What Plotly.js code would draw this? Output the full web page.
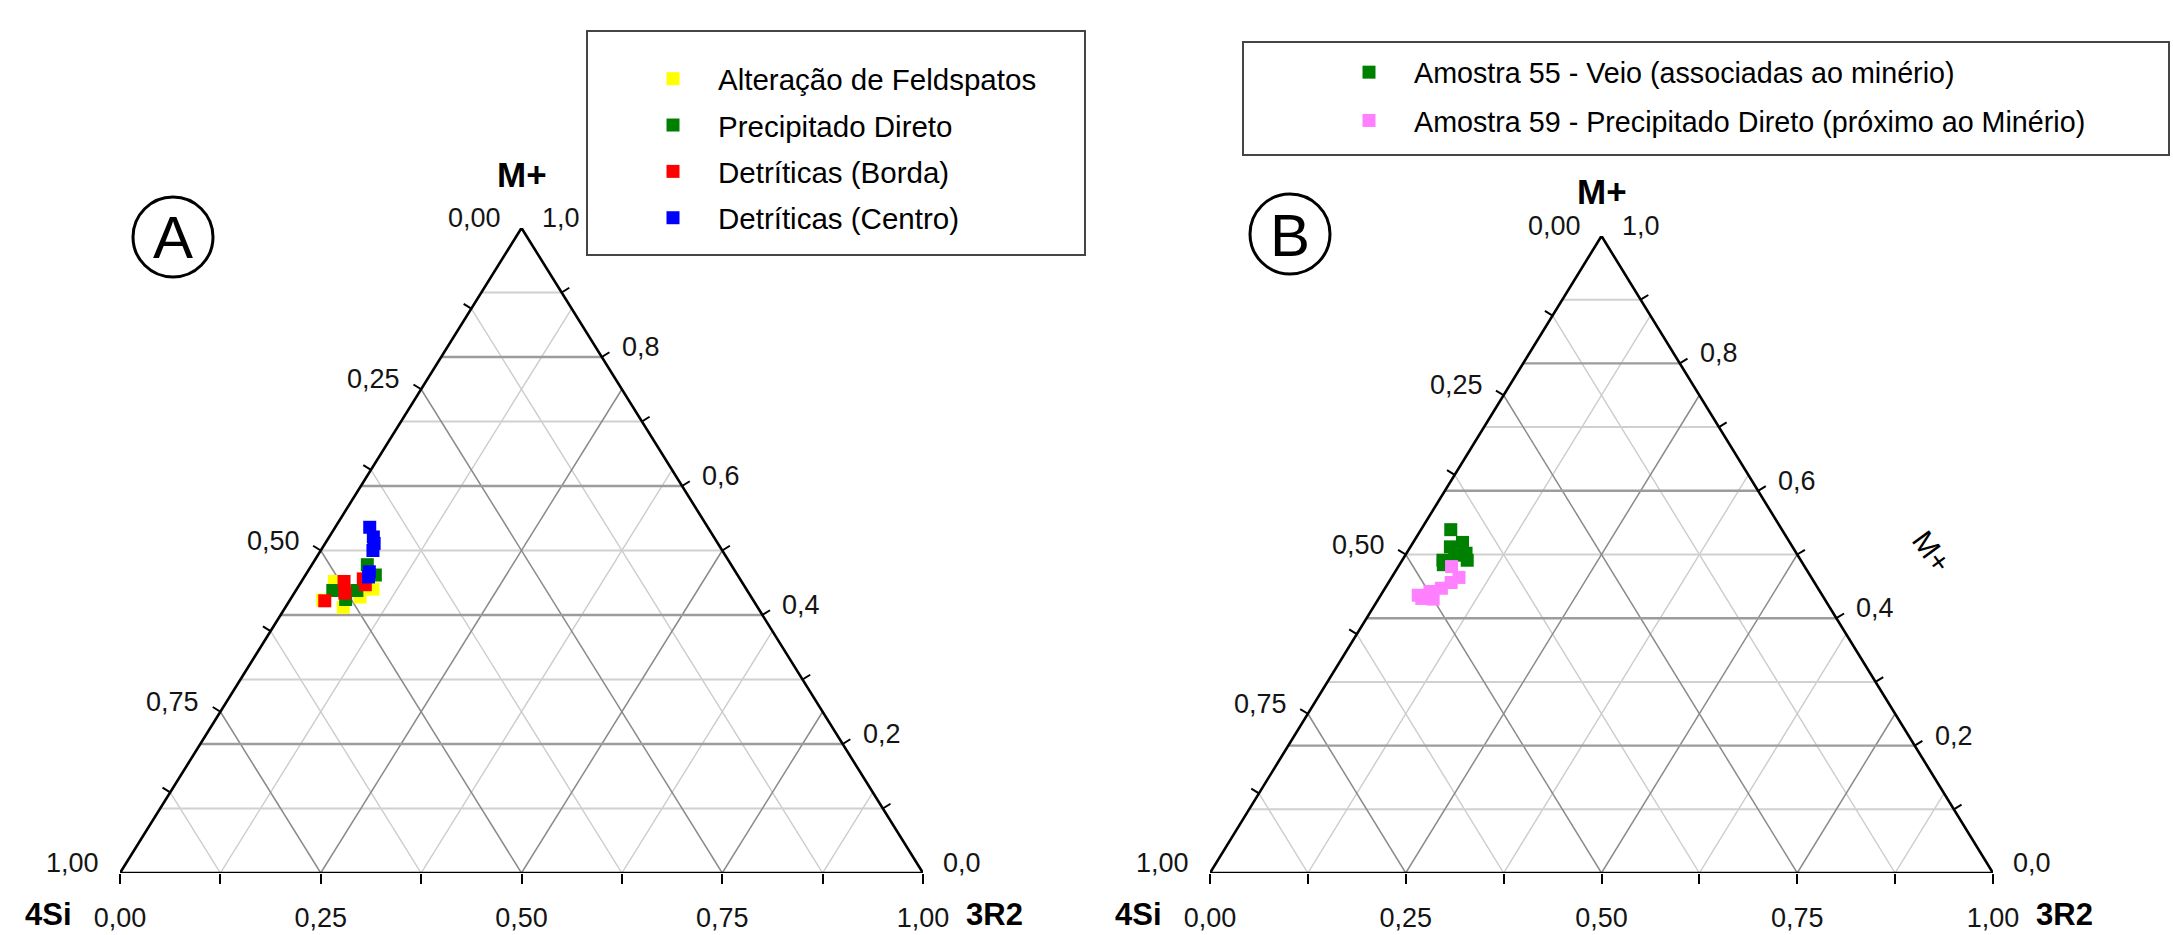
<!DOCTYPE html>
<html><head><meta charset="utf-8">
<script src="https://cdn.plot.ly/plotly-3.0.1.min.js"></script>
<style>html,body{margin:0;padding:0;background:#fff}#chart{width:2173px;height:935px}</style>
</head><body><div id="chart"></div>
<script>
// ---------- axis ticks ----------
const bottomTicks = [0, 0.125, 0.25, 0.375, 0.5, 0.625, 0.75, 0.875, 1];        // 3R2 along base
const bottomTickText = ['0,00', '', '0,25', '', '0,50', '', '0,75', '', '1,00'];
const leftTicks = [0, 0.125, 0.25, 0.375, 0.5, 0.625, 0.75, 0.875, 1];          // 4Si along left side
const leftTickText = ['0,00', '', '0,25', '', '0,50', '', '0,75', '', '1,00'];
const rightTicks = [0, 0.1, 0.2, 0.3, 0.4, 0.5, 0.6, 0.7, 0.8, 0.9, 1];         // M+ along right side
const rightTickText = ['0,0', '', '0,2', '', '0,4', '', '0,6', '', '0,8', '', '1,0'];
const apexTitle = 'M+', leftTitle = '4Si', rightTitle = '3R2';

// ---------- Panel A data (fractions M+, 4Si, 3R2) ----------
const namesA = ['Alteração de Feldspatos', 'Precipitado Direto', 'Detríticas (Borda)', 'Detríticas (Centro)'];
const feldM  = [0.452, 0.412, 0.440, 0.423, 0.428];
const feldSi = [0.507, 0.516, 0.465, 0.536, 0.487];
const feldR2 = [0.041, 0.072, 0.095, 0.041, 0.085];
const precM  = [0.478, 0.462, 0.438, 0.438, 0.424];
const precSi = [0.453, 0.451, 0.516, 0.486, 0.507];
const precR2 = [0.069, 0.087, 0.046, 0.076, 0.069];
const bordaM  = [0.422, 0.452, 0.434, 0.456, 0.447];
const bordaSi = [0.534, 0.495, 0.503, 0.469, 0.471];
const bordaR2 = [0.044, 0.053, 0.063, 0.075, 0.082];
const centroM  = [0.536, 0.521, 0.511, 0.500, 0.467, 0.459];
const centroSi = [0.421, 0.424, 0.428, 0.435, 0.456, 0.461];
const centroR2 = [0.043, 0.055, 0.061, 0.065, 0.077, 0.080];

// ---------- Panel B data ----------
const namesB = ['Amostra 55 - Veio (associadas ao minério)', 'Amostra 59 - Precipitado Direto (próximo ao Minério)'];
const a55M  = [0.539, 0.512, 0.519, 0.502, 0.491, 0.491, 0.499, 0.484];
const a55Si = [0.423, 0.437, 0.418, 0.422, 0.426, 0.457, 0.438, 0.460];
const a55R2 = [0.038, 0.051, 0.063, 0.076, 0.083, 0.052, 0.063, 0.056];
const a59M  = [0.481, 0.464, 0.456, 0.447, 0.442, 0.436, 0.430, 0.431];
const a59Si = [0.451, 0.450, 0.464, 0.481, 0.498, 0.516, 0.500, 0.514];
const a59R2 = [0.068, 0.086, 0.080, 0.072, 0.060, 0.048, 0.070, 0.055];

// ---------- helpers ----------
const W = 2173, H = 935;
const px = v => v / W, py = v => 1 - v / H;
const FONT = '"Liberation Sans", Arial, sans-serif';
// ternary (M+, 3R2) -> cartesian inside a triangle with base [0,1] and apex at (0.5,1)
const toX = (m, r2) => r2 + m / 2;

function frame(xa, ya, wPx, hPx, opt) {
  const tr = [], ann = [];
  const hMaj = {x: [], y: []}, hMin = {x: [], y: []}, sMaj = {x: [], y: []}, sMin = {x: [], y: []};
  rightTicks.forEach((v, i) => {
    if (v <= 0 || v >= 1) return;
    const g = i % 2 === 0 ? hMaj : hMin;
    g.x.push(toX(v, 0), toX(v, 1 - v), null); g.y.push(v, v, null);
  });
  bottomTicks.forEach((v, i) => {
    if (v <= 0 || v >= 1) return;
    const g = i % 2 === 0 ? sMaj : sMin;
    g.x.push(toX(0, v), toX(1 - v, v), null); g.y.push(0, 1 - v, null);   // constant 3R2
    g.x.push(toX(0, v), toX(v, 0), null); g.y.push(0, v, null);           // constant 4Si
  });
  const line = (g, color, width) => ({type: 'scatter', mode: 'lines', x: g.x, y: g.y, xaxis: xa, yaxis: ya,
    line: {color, width}, hoverinfo: 'skip', showlegend: false});
  tr.push(line(sMin, '#cccccc', 1.4), line(hMin, '#d0d0d0', 2), line(sMaj, '#8a8a8a', 1.5), line(hMaj, '#9c9c9c', 2.4));
  // triangle edges
  tr.push({type: 'scatter', mode: 'lines', x: [toX(0, 0), toX(1, 0), toX(0, 1), toX(0, 0)], y: [0, 1, 0, 0],
    xaxis: xa, yaxis: ya, line: {color: '#000', width: 2.6}, hoverinfo: 'skip', showlegend: false, cliponaxis: false});
  // side ticks (perpendicular, outward)
  const L = Math.hypot(wPx / 2, hPx), tl = 9;
  const nx = (hPx / L) * tl / wPx, ny = (wPx / 2 / L) * tl / hPx;
  const tk = {x: [], y: []};
  leftTicks.forEach(v => { const m = 1 - v, x0 = toX(m, 0); tk.x.push(x0, x0 - nx, null); tk.y.push(m, m + ny, null); });
  rightTicks.forEach(v => { const x0 = toX(v, 1 - v); tk.x.push(x0, x0 + nx, null); tk.y.push(v, v + ny, null); });
  tr.push({type: 'scatter', mode: 'lines', x: tk.x, y: tk.y, xaxis: xa, yaxis: ya, cliponaxis: false,
    line: {color: '#000', width: 2}, hoverinfo: 'skip', showlegend: false});
  // side tick labels
  const f = {family: FONT, size: 27, color: '#141414'};
  leftTicks.forEach((v, i) => { if (!leftTickText[i]) return;
    ann.push({xref: xa, yref: ya, x: toX(1 - v, 0), y: 1 - v, text: leftTickText[i], showarrow: false,
      xanchor: 'right', yanchor: 'middle', xshift: -19, yshift: 10, font: f}); });
  rightTicks.forEach((v, i) => { if (!rightTickText[i]) return;
    ann.push({xref: xa, yref: ya, x: toX(v, 1 - v), y: v, text: rightTickText[i], showarrow: false,
      xanchor: 'left', yanchor: 'middle', xshift: 18, yshift: 10, font: f}); });
  // corner titles
  const fb = {family: FONT, size: 31, color: '#000'};
  ann.push({xref: xa, yref: ya, x: 0.5, y: 1, text: '<b>' + apexTitle + '</b>', showarrow: false, xanchor: 'center', yanchor: 'middle', yshift: opt.apexShift, font: {family: FONT, size: 35, color: '#000'}});
  ann.push({xref: xa, yref: ya, x: 0, y: 0, text: '<b>' + leftTitle + '</b>', showarrow: false, xanchor: 'center', yanchor: 'middle', xshift: -72, yshift: -41, font: fb});
  ann.push({xref: xa, yref: ya, x: 1, y: 0, text: '<b>' + rightTitle + '</b>', showarrow: false, xanchor: 'center', yanchor: 'middle', xshift: 71, yshift: -41, font: fb});
  return {tr, ann};
}

function pts(m, si, r2, name, color, xa, ya, leg) {
  return {type: 'scatter', mode: 'markers', name, x: m.map((v, i) => toX(v, r2[i])), y: m,
    customdata: si, xaxis: xa, yaxis: ya, legend: leg, legendgroup: name, cliponaxis: false,
    marker: {symbol: 'square', size: 13, color},
    hovertemplate: 'M+ %{y:.3f}<br>4Si %{customdata:.3f}<extra>' + name + '</extra>'};
}

const fa = frame('x', 'y', 803, 645, {apexShift: 54});
const fbB = frame('x2', 'y2', 783, 637, {apexShift: 45});

const data = [...fa.tr, ...fbB.tr,
  pts(feldM, feldSi, feldR2, namesA[0], '#ffff00', 'x', 'y', 'legend'),
  pts(precM, precSi, precR2, namesA[1], '#008000', 'x', 'y', 'legend'),
  pts(bordaM, bordaSi, bordaR2, namesA[2], '#ff0000', 'x', 'y', 'legend'),
  pts(centroM, centroSi, centroR2, namesA[3], '#0000ff', 'x', 'y', 'legend'),
  pts(a55M, a55Si, a55R2, namesB[0], '#008000', 'x2', 'y2', 'legend2'),
  pts(a59M, a59Si, a59R2, namesB[1], '#ff80ff', 'x2', 'y2', 'legend2')
];

const xax = dom => ({domain: dom, range: [0, 1], tickmode: 'array', tickvals: bottomTicks, ticktext: bottomTickText,
  ticks: 'outside', ticklen: 10, tickwidth: 2, tickcolor: '#000', showgrid: false, zeroline: false, showline: false,
  tickfont: {family: FONT, size: 27, color: '#141414'}, ticklabelstandoff: 11, fixedrange: true});
const yax = (dom, anchor) => ({domain: dom, range: [0, 1], visible: false, anchor, fixedrange: true});

const layout = {
  width: W, height: H, margin: {l: 0, r: 0, t: 0, b: 0}, paper_bgcolor: '#fff', plot_bgcolor: 'rgba(0,0,0,0)',
  font: {family: FONT, color: '#000'}, showlegend: true,
  xaxis: xax([px(120), px(923)]), yaxis: yax([py(873), py(228)], 'x'),
  xaxis2: Object.assign(xax([px(1210), px(1993)]), {anchor: 'y2'}), yaxis2: yax([py(873), py(236)], 'x2'),
  legend: {x: px(628), y: py(53), xanchor: 'left', yanchor: 'top', bgcolor: 'rgba(0,0,0,0)', borderwidth: 0,
    font: {family: FONT, size: 29.5, color: '#000'}, tracegroupgap: 5, itemwidth: 80, itemclick: false},
  legend2: {x: px(1324), y: py(47), xanchor: 'left', yanchor: 'top', bgcolor: 'rgba(0,0,0,0)', borderwidth: 0,
    font: {family: FONT, size: 28.7, color: '#000'}, tracegroupgap: 8, itemwidth: 80, itemclick: false},
  shapes: [
    {type: 'rect', xref: 'paper', yref: 'paper', x0: px(587), x1: px(1085), y0: py(255), y1: py(31), line: {color: '#454545', width: 2}},
    {type: 'rect', xref: 'paper', yref: 'paper', x0: px(1243), x1: px(2169), y0: py(155), y1: py(42), line: {color: '#454545', width: 2}},
    {type: 'circle', xref: 'paper', yref: 'paper', x0: px(133), x1: px(213), y0: py(277), y1: py(197), line: {color: '#000', width: 3}},
    {type: 'circle', xref: 'paper', yref: 'paper', x0: px(1250), x1: px(1330), y0: py(274), y1: py(194), line: {color: '#000', width: 3}}
  ],
  annotations: [...fa.ann, ...fbB.ann,
    {xref: 'paper', yref: 'paper', x: px(173), y: py(238), text: 'A', showarrow: false, xanchor: 'center', yanchor: 'middle', font: {family: FONT, size: 60, color: '#000'}},
    {xref: 'paper', yref: 'paper', x: px(1290), y: py(235), text: 'B', showarrow: false, xanchor: 'center', yanchor: 'middle', font: {family: FONT, size: 60, color: '#000'}},
    {xref: 'paper', yref: 'paper', x: px(1932), y: py(551), text: apexTitle, showarrow: false, textangle: 54, xanchor: 'center', yanchor: 'middle', font: {family: FONT, size: 30, color: '#000'}}
  ]
};

Plotly.newPlot('chart', data, layout, {staticPlot: true});
</script></body></html>
